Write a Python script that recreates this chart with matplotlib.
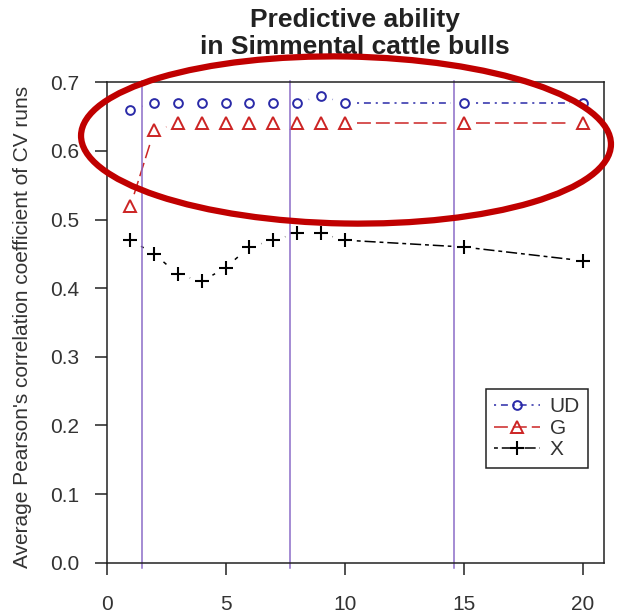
import matplotlib
matplotlib.use('Agg')
import matplotlib.pyplot as plt
from matplotlib.patches import Ellipse
from matplotlib.lines import Line2D
import numpy as np

plt.rcParams['font.family'] = ['Liberation Sans', 'DejaVu Sans']
plt.rcParams['lines.scale_dashes'] = False

# values
runs = [1, 2, 3, 4, 5, 6, 7, 8, 9, 10, 15, 20]
ud = [0.66, 0.67, 0.67, 0.67, 0.67, 0.67, 0.67, 0.67, 0.68, 0.67, 0.67, 0.67]
g = [0.52, 0.63, 0.64, 0.64, 0.64, 0.64, 0.64, 0.64, 0.64, 0.64, 0.64, 0.64]
x_cor = [0.47, 0.45, 0.42, 0.41, 0.43, 0.46, 0.47, 0.48, 0.48, 0.47, 0.46, 0.44]
labels = ['UD', 'G', 'X']
marks = [1.5, 7.7, 14.6]
xticks = [0, 5, 10, 15, 20]
yticks = [0.0, 0.1, 0.2, 0.3, 0.4, 0.5, 0.6, 0.7]

blue = '#2a2aa8'
red = '#cc2424'
purple = '#8c6cc8'

styles = [
	dict(color=blue, dashes=(1.5, 3.5, 5, 3.5), marker='o', ms=6.3, mew=1.4, mfc='none'),
	dict(color=red, dashes=(10, 3.6), marker='^', ms=8, mew=1.4, mfc='none'),
	dict(color='black', dashes=(2.8, 2.8, 8, 2.8), marker='+', ms=9.5, mew=1.5),
]


def plot_b(ax, xs, ys, gap, st):
	# R type="b": points with line pieces that stop short of each point
	lw = 1.1
	pts = ax.transData.transform(np.column_stack([xs, ys]))
	inv = ax.transData.inverted()
	for p, q in zip(pts[:-1], pts[1:]):
		d = q - p
		n = np.hypot(d[0], d[1])
		if n <= 2 * gap:
			continue
		u = d / n
		a = inv.transform(p + u * gap)
		b = inv.transform(q - u * gap)
		ax.plot([a[0], b[0]], [a[1], b[1]], color=st['color'], lw=lw,
				dashes=st['dashes'], dash_capstyle='butt')
	ax.plot(xs, ys, ls='none', color=st['color'], marker=st['marker'],
			ms=st['ms'], mew=st['mew'], mfc=st.get('mfc', st['color']))


fig = plt.figure(figsize=(6.22, 6.14), dpi=100)
ax = fig.add_axes([0.1715, 0.0835, 0.7995, 0.7825])
ax.set_xlim(0, 20.9)
ax.set_ylim(0, 0.7)

for xs_y, st in zip([ud, g, x_cor], styles):
	plot_b(ax, runs, xs_y, 12.2, st)

for m in marks:
	ax.axvline(m, ymin=-0.012, ymax=1.003, color=purple, lw=1.1, clip_on=False)

ax.set_xticks(xticks)
ax.set_yticks(yticks)
ax.set_yticklabels(['%.1f' % v for v in yticks])
ax.tick_params(direction='out', length=8.5, width=1.1, labelsize=15, color='#222222',
			   labelcolor='#333333')
ax.tick_params(axis='y', pad=11)
ax.tick_params(axis='x', pad=15)
for s in ax.spines.values():
	s.set_linewidth(1.1)
	s.set_color('#222222')

ax.set_ylabel("Average Pearson's correlation coefficient of CV runs", fontsize=15, color='#333333')
ax.yaxis.set_label_coords(-0.15, 0.49)
ax.set_title('Predictive ability\nin Simmental cattle bulls', fontsize=19, fontweight='bold',
			 linespacing=1.2, pad=20, color='#222222')

handles = [Line2D([], [], color=st['color'], lw=1.1, dashes=st['dashes'], marker=st['marker'],
				  ms=st['ms'], mew=st['mew'], mfc=st.get('mfc', st['color'])) for st in styles]
leg = ax.legend(handles, labels, loc='upper left', bbox_to_anchor=(0.763, 0.3616),
				borderaxespad=0, fontsize=15, labelspacing=0.12, handlelength=2.2,
				handletextpad=0.45, borderpad=0.4, fancybox=False, framealpha=1,
				edgecolor='#222222', numpoints=1)
leg.get_frame().set_linewidth(1.1)
for t in leg.get_texts():
	t.set_color('#333333')

# red ellipse drawn around the top two series
ell = Ellipse((3.46, 4.74), 5.3, 1.67, angle=-1, fill=False, ec='#c00000', lw=4.5,
			  transform=fig.dpi_scale_trans, clip_on=False)
fig.add_artist(ell)

fig.savefig('out.png', dpi=100)
